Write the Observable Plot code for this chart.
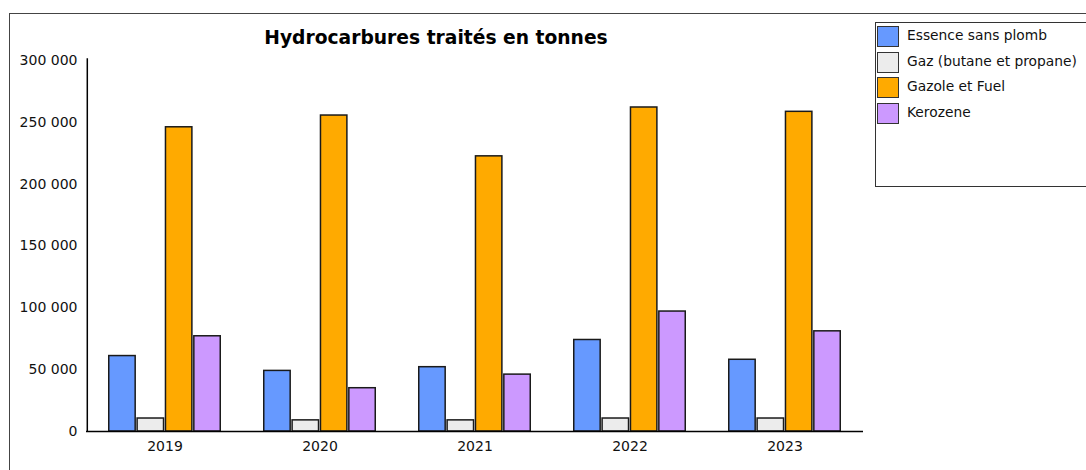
<!DOCTYPE html>
<html><head><meta charset="utf-8">
<script src="https://cdn.jsdelivr.net/npm/d3@7"></script>
<script src="https://cdn.jsdelivr.net/npm/@observablehq/plot@0.6"></script>
<style>
html,body{margin:0;padding:0;background:#fff;overflow:hidden;width:1086px;height:470px}
#wrap{position:relative;width:1086px;height:470px;overflow:hidden}
#frame{position:absolute;left:9px;top:13px;width:1300px;height:700px;border:1px solid #444;box-sizing:border-box}
#chart{position:absolute;left:0;top:0}
#title{position:absolute;left:0;width:872px;top:27px;text-align:center;font:bold 18.7px "DejaVu Sans",sans-serif;color:#000}
#legend{position:absolute;left:875px;top:22px;width:300px;height:165px;border:1px solid #333;box-sizing:border-box;background:#fff}
.sw{position:absolute;left:1px;width:22px;height:21px;border:1px solid #333;box-sizing:border-box}
.lb{position:absolute;left:31px;font:13.8px "DejaVu Sans",sans-serif;color:#111;white-space:nowrap;line-height:21px}
</style>
</head><body>
<div id="wrap">
  <div id="frame"></div>
  <div id="chart"></div>
  <div id="title">Hydrocarbures traités en tonnes</div>
  <div id="legend"></div>
</div>
<script>
const years = ["2019", "2020", "2021", "2022", "2023"];
const series = ["Essence sans plomb", "Gaz (butane et propane)", "Gazole et Fuel", "Kerozene"];
const essence = [61000, 49000, 52000, 74000, 58000];
const gaz = [10500, 9000, 9000, 10500, 10500];
const gazole = [246000, 255500, 222500, 262000, 258500];
const kerozene = [77000, 35000, 46000, 97000, 81000];
const colors = ["#6699ff", "#ececec", "#ffaa00", "#cc99ff"];
const yTicks = [0, 50000, 100000, 150000, 200000, 250000, 300000];

const values = [essence, gaz, gazole, kerozene];
const rows = [];
series.forEach((s, si) => years.forEach((y, yi) => rows.push({series: s, si, year: y, value: values[si][yi]})));

const W = 1086, H = 470, mL = 86, mR = 223, mT = 60, mB = 39;
const pIn = 0.27, pOut = 0.135;
const xs = Plot.scale({x: {type: "band", domain: years, paddingInner: pIn, paddingOuter: pOut, range: [mL, W - mR]}});
const bw = xs.bandwidth, step = xs.step;
const q = bw / 4;
const fmt = d => d3.format(",")(d).replace(/,/g, " ");

const barMarks = series.map((s, si) => Plot.barY(rows.filter(r => r.si === si), {
  x: "year", y: "value", fill: "series", stroke: "#1a1a1a", strokeWidth: 1.5,
  insetLeft: si * q + 0.75, insetRight: (3 - si) * q + 0.75
}));

const chart = Plot.plot({
  width: W, height: H,
  marginLeft: mL, marginRight: mR, marginTop: mT, marginBottom: mB,
  style: {fontFamily: "DejaVu Sans, sans-serif", fontSize: "14px", color: "#111", background: "transparent"},
  x: {type: "band", domain: years, paddingInner: pIn, paddingOuter: pOut, label: null},
  y: {domain: [0, 300000], label: null},
  color: {domain: series, range: colors},
  marks: [
    ...barMarks,
    Plot.ruleY([0], {stroke: "#000", strokeWidth: 1.5}),
    Plot.ruleX([years[0]], {y1: 0, y2: 301500, dx: -(bw / 2 + pOut * step), stroke: "#000", strokeWidth: 1.5}),
    Plot.axisY({ticks: yTicks, tickSize: 0, tickPadding: 9, tickFormat: fmt, fontSize: 14}),
    Plot.axisX({tickSize: 0, tickPadding: 10, fontSize: 14})
  ]
});
document.getElementById("chart").appendChild(chart);

const legend = document.getElementById("legend");
series.forEach((s, i) => {
  const top = 3 + i * 25.7;
  const sw = document.createElement("div");
  sw.className = "sw"; sw.style.top = top + "px"; sw.style.background = colors[i];
  const lb = document.createElement("div");
  lb.className = "lb"; lb.style.top = (top - 1) + "px"; lb.textContent = s;
  legend.appendChild(sw); legend.appendChild(lb);
});
</script>
</body></html>
